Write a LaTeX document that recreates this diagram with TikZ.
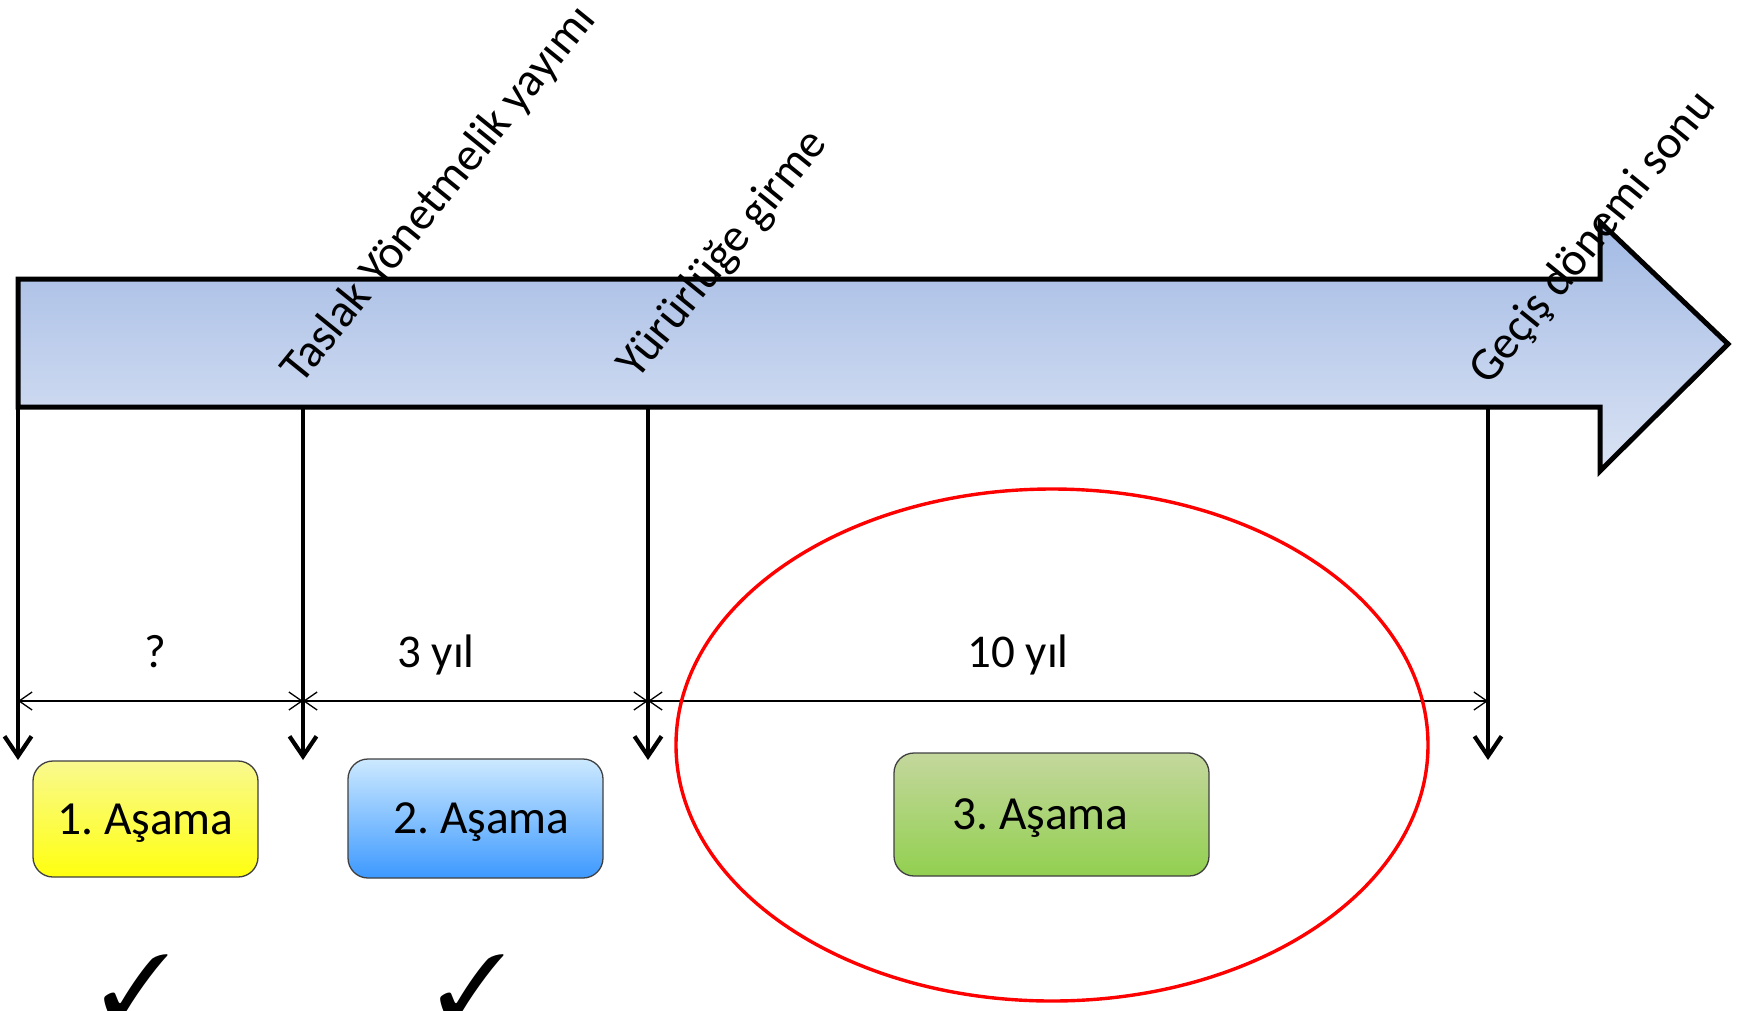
\documentclass[tikz,border=0pt]{standalone}
\usepackage{fontspec}
\setmainfont{Carlito}
\usepackage{pifont}
\usetikzlibrary{arrows.meta,shapes.geometric}
\frenchspacing

\definecolor{barTop}{RGB}{163,186,228}
\definecolor{barBot}{RGB}{218,227,244}
\definecolor{yelTop}{RGB}{249,249,143}
\definecolor{yelBot}{RGB}{255,255,16}
\definecolor{bluTop}{RGB}{204,233,255}
\definecolor{bluBot}{RGB}{61,153,255}
\definecolor{grnTop}{RGB}{196,215,157}
\definecolor{grnBot}{RGB}{146,208,80}

\begin{document}
\begin{tikzpicture}[x=1pt,y=-1pt,
  lbl/.style={font=\fontsize{47}{56}\selectfont, inner sep=0pt},
  rotlbl/.style={lbl, rotate=51, anchor=base west},
  stage/.style={draw=black!75, line width=1.3pt, rounded corners=20pt,
                inner sep=0pt, text height=39pt, text depth=9pt,
                font=\fontsize{47.5}{56}\selectfont},
  tick/.style={line width=4.2pt, -{Straight Barb[length=20pt,width=27pt]}},
  span/.style={line width=1.3pt,
               {Straight Barb[length=13pt,width=18pt]}-{Straight Barb[length=13pt,width=18pt]}},
  chk/.style={anchor=base west, inner sep=0pt, font=\fontsize{92}{92}\selectfont}
]
\useasboundingbox (0,0) rectangle (1739,1010);

% timeline arrow
\draw[line width=5pt, line join=miter, top color=barTop, bottom color=barBot]
  (18,279) -- (1600,279) -- (1600,222) -- (1728,344) -- (1600,471)
  -- (1600,407) -- (18,407) -- cycle;

% milestone coordinates
\foreach \i/\x in {0/18, 1/303, 2/648, 3/1488} {
  \coordinate (t\i) at (\x,407);
  \coordinate (b\i) at (\x,760);
  \coordinate (m\i) at (\x,701);
}

% milestone ticks
\foreach \i in {0,...,3} \draw[tick] (t\i) -- (b\i);

% durations
\draw[span] (m0) -- (m1);
\draw[span] (m1) -- (m2);
\draw[span] (m2) -- (m3);
\node[lbl] (d1) at (155,652) {?};
\node[lbl] (d2) at (436,655) {3 yıl};
\node[lbl] (d3) at (1018,655) {10 yıl};

% milestone captions
\node[rotlbl] (taslak) at (301,386) {Taslak Yönetmelik yayımı};
\node[rotlbl] (yurur) at (637,381) {Yürürlüğe girme};
\node[rotlbl] (gecis) at (1489,387) {Geçiş dönemi sonu};

% stages
\node[stage, minimum width=225pt, minimum height=116pt,
      top color=yelTop, bottom color=yelBot] (s1) at (145.5,819) {1. Aşama};
\node[stage, minimum width=255pt, minimum height=119pt,
      top color=bluTop, bottom color=bluBot] (s2) at (475.5,818.5) {\kern12pt 2. Aşama};
\node[stage, minimum width=315pt, minimum height=123pt,
      top color=grnTop, bottom color=grnBot] (s3) at (1051.5,814.5) {3. Aşama\kern22pt};

% highlight
\node[draw=red, line width=3.4pt, ellipse, inner sep=0pt,
      minimum width=752pt, minimum height=512pt] (focus) at (1052,745) {};

% completed stages
\node[chk] (c1) at (101,1019) {\ding{51}};
\node[chk] (c2) at (437,1019) {\ding{51}};
\end{tikzpicture}
\end{document}
